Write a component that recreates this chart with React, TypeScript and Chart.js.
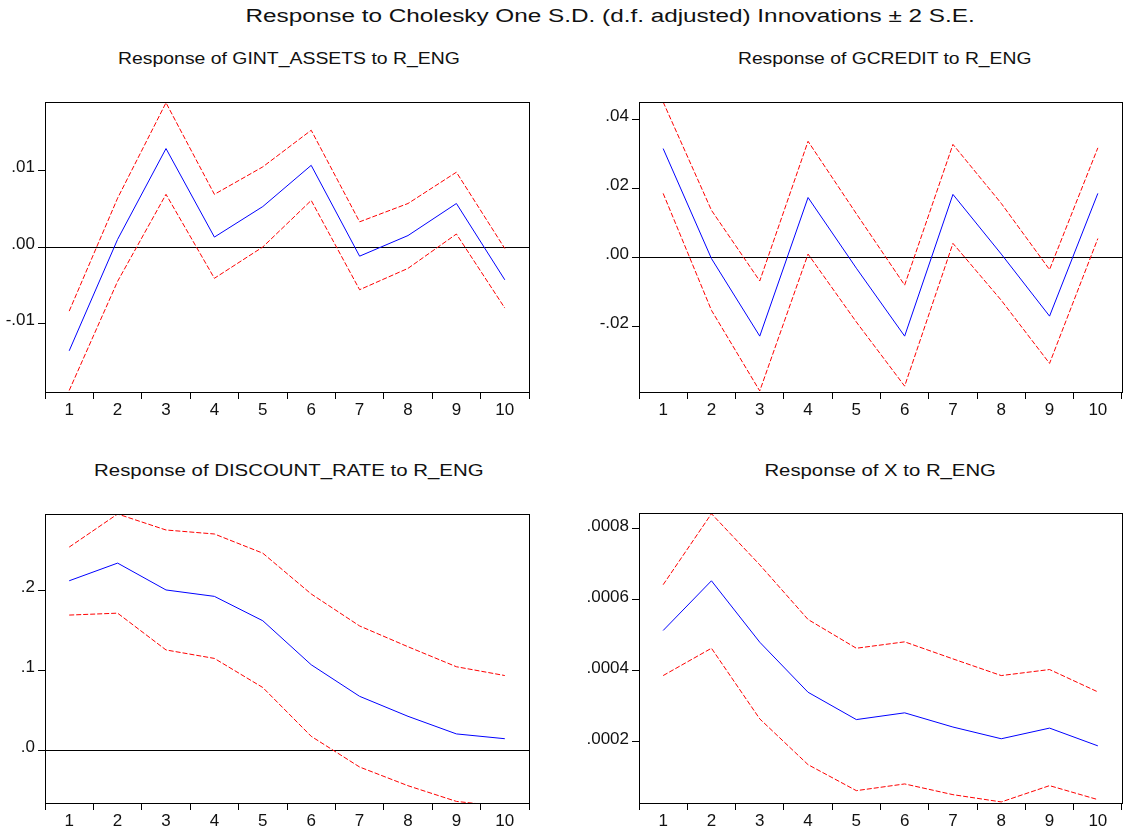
import React, { useEffect, useLayoutEffect, useRef, useState } from 'react';
import { Chart, registerables } from 'chart.js';

Chart.register(...registerables);

const FONT = '"Liberation Sans", Arial, Helvetica, sans-serif';

// ---------- data ----------
const periods = ['1', '2', '3', '4', '5', '6', '7', '8', '9', '10'];

const gintResp = [-0.0136, 0.001, 0.0129, 0.0013, 0.0053, 0.0107, -0.0012, 0.0015, 0.0057, -0.0043];
const gintUpper = [-0.0084, 0.0064, 0.0189, 0.0069, 0.0105, 0.0153, 0.0033, 0.0057, 0.0098, -0.0002];
const gintLower = [-0.0188, -0.0045, 0.0069, -0.0041, 0.0, 0.0061, -0.0056, -0.0028, 0.0017, -0.008];

const gcreditResp = [0.0316, -0.0003, -0.0228, 0.0174, -0.0031, -0.0228, 0.0183, 0.001, -0.017, 0.0186];
const gcreditUpper = [0.0451, 0.0137, -0.0068, 0.0337, 0.0127, -0.008, 0.0328, 0.0157, -0.0035, 0.0318];
const gcreditLower = [0.0186, -0.0153, -0.0387, 0.001, -0.0187, -0.0373, 0.0041, -0.0124, -0.0307, 0.0055];

const discountResp = [0.2125, 0.2346, 0.201, 0.193, 0.1625, 0.1075, 0.068, 0.043, 0.021, 0.015];
const discountUpper = [0.2546, 0.296, 0.276, 0.271, 0.247, 0.196, 0.156, 0.13, 0.105, 0.094];
const discountLower = [0.1696, 0.172, 0.126, 0.1154, 0.079, 0.018, -0.0204, -0.0438, -0.0634, -0.07];

const xResp = [0.000514, 0.000654, 0.000481, 0.00034, 0.000263, 0.000282, 0.000242, 0.000209, 0.000239, 0.000189];
const xUpper = [0.000643, 0.000843, 0.000699, 0.000545, 0.000464, 0.000482, 0.000434, 0.000387, 0.000404, 0.000341];
const xLower = [0.000387, 0.000464, 0.000265, 0.000136, 0.0000628, 0.0000817, 0.0000515, 0.000031, 0.0000769, 0.0000375];

const mainTitle = 'Response to Cholesky One S.D. (d.f. adjusted) Innovations \u00B1 2 S.E.';
const titleGint = 'Response of GINT_ASSETS to R_ENG';
const titleGcredit = 'Response of GCREDIT to R_ENG';
const titleDiscount = 'Response of DISCOUNT_RATE to R_ENG';
const titleX = 'Response of X to R_ENG';

// ---------- helpers ----------
function fmtTick(v: number, dec: number): string {
  const s = Number(v).toFixed(dec);
  return s.replace(/^(-?)0\./, '$1.');
}

const boxPlugin = {
  id: 'boxFrame',
  afterDraw(chart: any) {
    const { ctx, chartArea: a } = chart;
    ctx.save();
    ctx.strokeStyle = '#000';
    ctx.lineWidth = 1;
    const l = Math.round(a.left) + 0.5;
    const t = Math.round(a.top) + 0.5;
    const r = Math.round(a.right) + 0.5;
    const b = Math.round(a.bottom) + 0.5;
    ctx.strokeRect(l, t, r - l, b - t);
    ctx.restore();
  },
};

type PanelProps = {
  left: number;
  top: number;
  right: number;
  bottom: number;
  padRight: number;
  axisWidth: number;
  resp: number[];
  upper: number[];
  lower: number[];
  yMin: number;
  yMax: number;
  yStep: number;
  decimals: number;
};

function Panel(p: PanelProps) {
  const ref = useRef<HTMLCanvasElement>(null);
  const YW = p.axisWidth;
  const PT = 22;
  const XH = 30;
  const PB = 3;
  const cLeft = p.left - YW;
  const cTop = p.top - PT;
  const cW = p.right - cLeft + p.padRight;
  const cH = p.bottom - cTop + XH + PB;

  useEffect(() => {
    if (!ref.current) return;
    const tickFont = { family: FONT, size: 17 };
    const dash = [5, 2];
    const chart = new Chart(ref.current, {
      type: 'line',
      data: {
        labels: periods,
        datasets: [
          { data: p.resp, borderColor: '#0000FF', borderWidth: 1, pointRadius: 0, tension: 0, fill: false },
          { data: p.upper, borderColor: '#FF0000', borderWidth: 1, borderDash: dash, pointRadius: 0, tension: 0, fill: false },
          { data: p.lower, borderColor: '#FF0000', borderWidth: 1, borderDash: dash, pointRadius: 0, tension: 0, fill: false },
        ],
      },
      options: {
        responsive: false,
        maintainAspectRatio: false,
        animation: false,
        events: [],
        layout: { padding: { left: 0, top: PT, right: p.padRight, bottom: PB } },
        plugins: {
          legend: { display: false },
          title: { display: false },
          tooltip: { enabled: false },
        },
        scales: {
          x: {
            type: 'category',
            offset: true,
            grid: {
              offset: true,
              drawOnChartArea: false,
              drawTicks: true,
              tickLength: 7,
              color: '#000',
              lineWidth: 1,
            },
            border: { display: false },
            ticks: {
              font: tickFont,
              color: '#111',
              padding: 1,
              maxRotation: 0,
              autoSkip: false,
            },
            afterFit: (s: any) => {
              s.height = XH;
            },
          },
          y: {
            type: 'linear',
            min: p.yMin,
            max: p.yMax,
            grid: {
              drawOnChartArea: true,
              drawTicks: true,
              tickLength: 7,
              lineWidth: 1,
              tickColor: '#000',
              color: (ctx: any) =>
                ctx.tick && Math.abs(ctx.tick.value) < 1e-12 ? '#000' : 'rgba(0,0,0,0)',
            },
            border: { display: false },
            ticks: {
              stepSize: p.yStep,
              includeBounds: false,
              font: tickFont,
              color: '#111',
              padding: 3,
              labelOffset: -3,
              callback: (v: any) => fmtTick(Number(v), p.decimals),
            },
            afterFit: (s: any) => {
              s.width = YW;
            },
          },
        },
      } as any,
      plugins: [boxPlugin],
    });
    return () => chart.destroy();
  }, []);

  return (
    <canvas
      ref={ref}
      width={cW}
      height={cH}
      style={{ position: 'absolute', left: cLeft, top: cTop, width: cW, height: cH }}
    />
  );
}

type FitTextProps = { text: string; cx: number; baseline: number; size: number; width: number };

function FitText({ text, cx, baseline, size, width }: FitTextProps) {
  const ref = useRef<HTMLSpanElement>(null);
  const [scale, setScale] = useState(1);
  useLayoutEffect(() => {
    if (ref.current) {
      const w = ref.current.offsetWidth;
      if (w > 0) setScale(width / w);
    }
  }, []);
  return (
    <div
      style={{
        position: 'absolute',
        left: cx - width / 2 - 200,
        width: width + 400,
        top: baseline - 0.8465 * size,
        textAlign: 'center',
        whiteSpace: 'nowrap',
        fontFamily: FONT,
        fontSize: size,
        lineHeight: size + 'px',
        color: '#111',
      }}
    >
      <span
        ref={ref}
        style={{ display: 'inline-block', transform: `scaleX(${scale})`, transformOrigin: '50% 50%' }}
      >
        {text}
      </span>
    </div>
  );
}

export default function App() {
  return (
    <div
      style={{
        position: 'fixed',
        left: 0,
        top: 0,
        width: 1123,
        height: 831,
        overflow: 'hidden',
        background: '#fff',
      }}
    >
      <FitText text={mainTitle} cx={610.5} baseline={22.5} size={18} width={729} />
      <FitText text={titleGint} cx={289} baseline={64.5} size={16} width={342} />
      <FitText text={titleGcredit} cx={885} baseline={64.5} size={16} width={293} />
      <FitText text={titleDiscount} cx={288.3} baseline={476.5} size={16} width={390} />
      <FitText text={titleX} cx={880} baseline={476.5} size={16} width={231} />

      <Panel
        left={45}
        top={102}
        right={529}
        bottom={392}
        padRight={10}
        axisWidth={45}
        resp={gintResp}
        upper={gintUpper}
        lower={gintLower}
        yMin={-0.019}
        yMax={0.019}
        yStep={0.01}
        decimals={2}
      />
      <Panel
        left={639}
        top={102}
        right={1122}
        bottom={392}
        padRight={1}
        axisWidth={60}
        resp={gcreditResp}
        upper={gcreditUpper}
        lower={gcreditLower}
        yMin={-0.039}
        yMax={0.0451}
        yStep={0.02}
        decimals={2}
      />
      <Panel
        left={45}
        top={514}
        right={529}
        bottom={803}
        padRight={10}
        axisWidth={45}
        resp={discountResp}
        upper={discountUpper}
        lower={discountLower}
        yMin={-0.0654}
        yMax={0.296}
        yStep={0.1}
        decimals={1}
      />
      <Panel
        left={639}
        top={513}
        right={1122}
        bottom={803}
        padRight={1}
        axisWidth={70}
        resp={xResp}
        upper={xUpper}
        lower={xLower}
        yMin={0.000028}
        yMax={0.000845}
        yStep={0.0002}
        decimals={4}
      />
    </div>
  );
}
